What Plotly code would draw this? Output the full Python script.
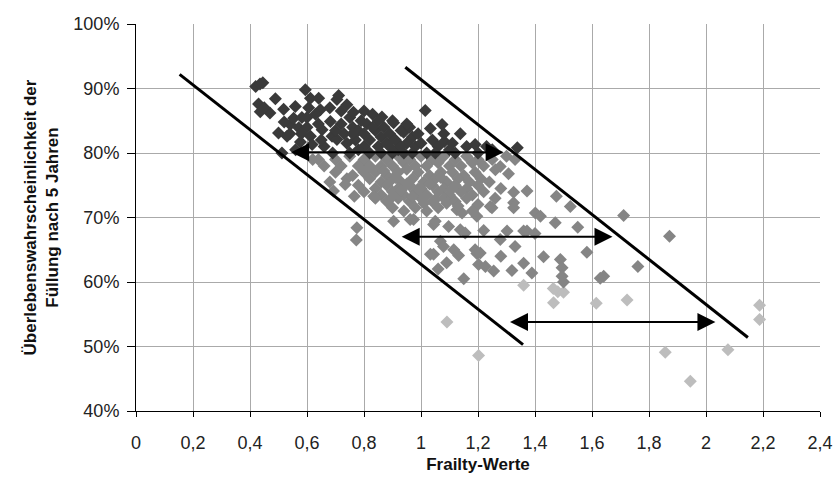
import plotly.graph_objects as go

# ---- data ----
dark_x = [0.42, 0.435, 0.445, 0.43, 0.436, 0.489, 0.50, 0.512, 0.518, 0.53, 0.541, 0.553, 0.559, 0.571,
          0.577, 0.582, 0.594, 0.606, 0.612, 0.612, 0.618, 0.641, 0.647, 0.653, 0.682, 0.688, 0.705, 0.705,
          0.711, 0.72, 0.73, 0.74, 0.75, 0.76, 0.763, 0.77, 0.78, 0.79, 0.80, 0.80, 0.81, 0.82, 0.83, 0.84,
          0.85, 0.86, 0.863, 0.87, 0.88, 0.89, 0.90, 0.904, 0.91, 0.92, 0.93, 0.939, 0.95, 0.96, 0.97, 0.98,
          0.99, 1.00, 1.015, 1.02, 1.033, 1.04, 1.06, 1.074, 1.082, 1.10, 1.138, 1.16, 1.20, 1.25, 1.338,
          0.66, 0.69, 0.75, 0.78, 0.82, 0.86, 0.90, 0.94, 0.97, 1.05, 1.12, 0.63, 0.68, 0.72, 0.74, 0.80,
          0.85, 0.76, 0.64, 0.60, 0.56, 0.58, 0.65, 0.70, 0.95, 0.83, 0.89, 0.93, 1.08, 1.11, 1.19, 1.23,
          0.47, 0.45, 0.52, 0.54, 0.60]
dark_y = [0.903, 0.907, 0.909, 0.876, 0.864, 0.884, 0.831, 0.800, 0.868, 0.826, 0.844, 0.854, 0.872, 0.839,
          0.817, 0.855, 0.898, 0.870, 0.885, 0.826, 0.813, 0.885, 0.867, 0.836, 0.849, 0.826, 0.883, 0.821,
          0.889, 0.845, 0.830, 0.815, 0.855, 0.840, 0.863, 0.820, 0.835, 0.850, 0.810, 0.830, 0.845, 0.820,
          0.860, 0.835, 0.810, 0.825, 0.856, 0.840, 0.815, 0.830, 0.850, 0.847, 0.820, 0.805, 0.835, 0.832,
          0.815, 0.840, 0.825, 0.810, 0.830, 0.815, 0.866, 0.800, 0.838, 0.820, 0.810, 0.844, 0.818, 0.805,
          0.830, 0.810, 0.800, 0.805, 0.808, 0.810, 0.800, 0.800, 0.805, 0.800, 0.800, 0.800, 0.800, 0.800,
          0.800, 0.800, 0.860, 0.870, 0.865, 0.875, 0.865, 0.850, 0.830, 0.845, 0.840, 0.805, 0.830, 0.820,
          0.835, 0.845, 0.840, 0.810, 0.810, 0.830, 0.815, 0.813, 0.810, 0.862, 0.870, 0.848, 0.830, 0.855]

mid_x = [0.62, 0.64, 0.70, 0.75, 0.80, 0.84, 0.88, 0.92, 0.96, 1.00, 1.04, 1.08, 1.12, 1.16, 1.20, 1.25, 1.30, 1.33,
         0.66, 0.72, 0.78, 0.82, 0.86, 0.90, 0.94, 0.98, 1.02, 1.06, 1.10, 1.14, 1.18, 1.22, 1.278,
         0.70, 0.76, 0.80, 0.84, 0.88, 0.92, 0.95, 0.99, 1.03, 1.07, 1.11, 1.15, 1.19, 1.261, 1.307,
         0.68, 0.74, 0.82, 0.86, 0.90, 0.93, 0.97, 1.01, 1.05, 1.09, 1.13, 1.17, 1.21, 1.24,
         0.734, 0.78, 0.84, 0.88, 0.92, 0.96, 1.00, 1.04, 1.08, 1.12, 1.16, 1.20, 1.28,
         0.693, 0.80, 0.86, 0.90, 0.94, 0.98, 1.02, 1.06, 1.10, 1.14, 1.18, 1.22, 1.325, 1.372,
         0.766, 0.834, 0.88, 0.92, 0.96, 1.00, 1.04, 1.08, 1.12, 1.16, 1.20, 1.26, 1.325, 1.475,
         0.84, 0.90, 0.94, 0.98, 1.02, 1.06, 1.126, 1.18, 1.243, 1.249, 1.325, 1.401, 1.419, 1.524, 1.144,
         1.196, 1.711,
         0.775, 0.773, 0.904, 0.962, 0.974, 1.044, 1.05, 1.097, 1.138, 1.155, 1.068, 1.278, 1.302, 1.36,
         1.372, 1.471, 1.872, 1.22, 1.40, 1.55,
         1.033, 1.044, 1.079, 1.09, 1.115, 1.132, 1.19, 1.196, 1.202, 1.208, 1.226, 1.255, 1.319, 1.36,
         1.389, 1.43, 1.489, 1.495, 1.495, 1.582, 1.629, 1.641, 1.761, 1.50, 1.06, 1.15, 1.28, 1.33,
         0.87, 0.91, 0.95, 0.99, 1.03, 1.07, 1.11, 0.89, 0.93, 0.97, 1.01, 1.05, 1.09, 1.13]
mid_y = [0.790, 0.790, 0.790, 0.795, 0.790, 0.795, 0.790, 0.795, 0.790, 0.795, 0.790, 0.795, 0.790, 0.795, 0.790, 0.790, 0.795, 0.790,
         0.780, 0.780, 0.780, 0.780, 0.780, 0.780, 0.785, 0.780, 0.780, 0.785, 0.780, 0.780, 0.785, 0.780, 0.779,
         0.770, 0.765, 0.770, 0.770, 0.765, 0.770, 0.775, 0.770, 0.765, 0.770, 0.770, 0.765, 0.770, 0.774, 0.768,
         0.755, 0.760, 0.760, 0.755, 0.760, 0.755, 0.760, 0.755, 0.760, 0.755, 0.760, 0.755, 0.760, 0.755,
         0.751, 0.750, 0.745, 0.750, 0.745, 0.750, 0.745, 0.750, 0.745, 0.750, 0.745, 0.750, 0.745,
         0.741, 0.740, 0.735, 0.740, 0.735, 0.740, 0.735, 0.740, 0.735, 0.740, 0.735, 0.740, 0.739, 0.741,
         0.733, 0.733, 0.725, 0.730, 0.725, 0.730, 0.725, 0.730, 0.725, 0.730, 0.720, 0.730, 0.723, 0.733,
         0.730, 0.715, 0.710, 0.715, 0.710, 0.715, 0.712, 0.710, 0.717, 0.715, 0.715, 0.707, 0.702, 0.717, 0.707,
         0.702, 0.703,
         0.684, 0.665, 0.694, 0.697, 0.697, 0.689, 0.694, 0.686, 0.681, 0.676, 0.663, 0.666, 0.679, 0.679,
         0.679, 0.692, 0.671, 0.680, 0.675, 0.685,
         0.643, 0.643, 0.655, 0.630, 0.650, 0.641, 0.650, 0.644, 0.627, 0.645, 0.624, 0.617, 0.618, 0.629,
         0.614, 0.639, 0.635, 0.622, 0.609, 0.646, 0.606, 0.609, 0.624, 0.600, 0.620, 0.605, 0.640, 0.655,
         0.772, 0.762, 0.752, 0.744, 0.752, 0.762, 0.745, 0.728, 0.742, 0.732, 0.722, 0.728, 0.722, 0.718]

light_x = [1.091, 1.202, 1.36, 1.465, 1.464, 1.48, 1.50, 1.615, 1.723, 1.857, 1.945, 2.077, 2.188, 2.188]
light_y = [0.538, 0.486, 0.595, 0.568, 0.590, 0.585, 0.584, 0.567, 0.572, 0.491, 0.446, 0.495, 0.564, 0.542]

# boundary lines
line1_x = [0.153, 1.358]
line1_y = [0.922, 0.503]
line2_x = [0.945, 2.147]
line2_y = [0.933, 0.514]

# double arrows: (left x, right x, y)
arrow_left = [0.539, 0.927, 1.307]
arrow_right = [1.29, 1.672, 2.033]
arrow_y = [0.801, 0.670, 0.538]

x_ticks = [0, 0.2, 0.4, 0.6, 0.8, 1.0, 1.2, 1.4, 1.6, 1.8, 2.0, 2.2, 2.4]
y_ticks = [0.4, 0.5, 0.6, 0.7, 0.8, 0.9, 1.0]

fig = go.Figure()
msize = 10
fig.add_trace(go.Scatter(x=light_x, y=light_y, mode="markers",
                         marker=dict(symbol="diamond", size=msize, color="#bdbdbd", line=dict(width=0)),
                         showlegend=False, hoverinfo="skip"))
fig.add_trace(go.Scatter(x=mid_x, y=mid_y, mode="markers",
                         marker=dict(symbol="diamond", size=msize, color="#858585", line=dict(width=0)),
                         showlegend=False, hoverinfo="skip"))
fig.add_trace(go.Scatter(x=dark_x, y=dark_y, mode="markers",
                         marker=dict(symbol="diamond", size=msize, color="#3a3a3a", line=dict(width=0)),
                         showlegend=False, hoverinfo="skip"))
for lx, ly in ((line1_x, line1_y), (line2_x, line2_y)):
    fig.add_trace(go.Scatter(x=lx, y=ly, mode="lines", line=dict(color="black", width=3),
                             showlegend=False, hoverinfo="skip"))

for xl, xr, yy in zip(arrow_left, arrow_right, arrow_y):
    fig.add_annotation(x=xr, y=yy, ax=xl, ay=yy, xref="x", yref="y", axref="x", ayref="y",
                       text="", showarrow=True, arrowhead=2, startarrowhead=2, arrowside="end+start",
                       arrowsize=1.8, startarrowsize=1.8, arrowwidth=2, arrowcolor="black",
                       standoff=0, startstandoff=0)

font_family = "Liberation Sans, Arial, sans-serif"
fig.update_layout(
    width=838, height=477,
    margin=dict(l=136, r=18, t=24, b=66),
    paper_bgcolor="white", plot_bgcolor="white",
    separators=",.",
    font=dict(family=font_family, size=18, color="#222222"),
    xaxis=dict(range=[0, 2.4], tickvals=x_ticks, tickformat="~g", automargin=False,
               showgrid=True, gridcolor="#aaaaaa", gridwidth=1,
               showline=True, linecolor="black", linewidth=1,
               ticks="outside", ticklen=5, tickcolor="black", zeroline=False,
               ticklabelstandoff=10,
               title=dict(text="<b>Frailty-Werte</b>", font=dict(size=17, color="#111111"), standoff=6)),
    yaxis=dict(range=[0.4, 1.0], tickvals=y_ticks, tickformat=".0%", automargin=False,
               showgrid=True, gridcolor="#aaaaaa", gridwidth=1,
               showline=True, linecolor="black", linewidth=1,
               ticks="outside", ticklen=8, tickcolor="black", zeroline=False,
               ticklabelstandoff=4,
               title=dict(text="<b>Überlebenswahrscheinlichkeit der<br>Füllung nach 5 Jahren</b>",
                          font=dict(size=17, color="#111111"), standoff=10)),
)

fig.write_html("out.html", config={"displayModeBar": False},
               post_script="document.body.style.margin='0';document.body.style.padding='0';")
